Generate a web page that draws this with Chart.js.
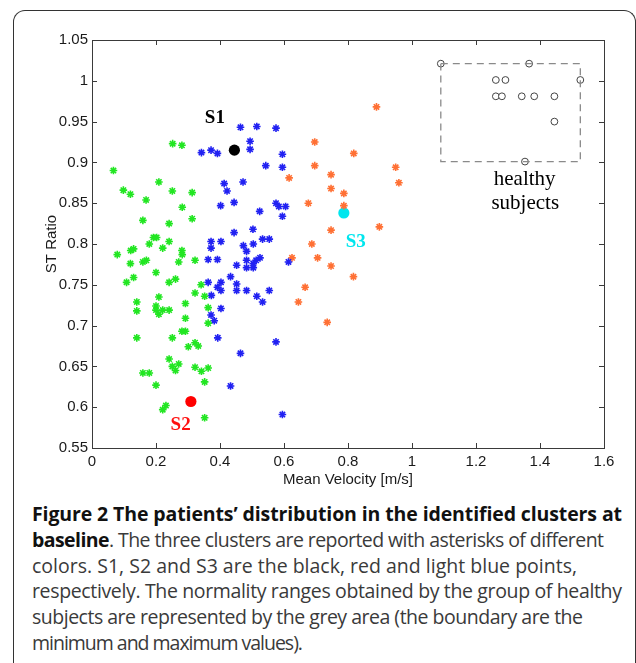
<!DOCTYPE html>
<html>
<head>
<meta charset="utf-8">
<script src="https://cdn.jsdelivr.net/npm/chart.js@4/dist/chart.umd.min.js"></script>
<style>
  html, body { margin: 0; padding: 0; background: #fff; }
  body { width: 636px; height: 663px; position: relative; overflow: hidden; }
  #frame {
    position: absolute; left: 13px; top: 10px; width: 621px; height: 700px;
    border: 1.5px solid #333; border-bottom: none; border-radius: 12px 12px 0 0;
  }
  #plot { position: absolute; left: 0; top: 0; width: 636px; height: 490px; }
  #caption {
    position: absolute; left: 32px; top: 501px; width: 600px;
    font-family: "Open Sans", sans-serif; font-size: 19.5px; line-height: 25.8px;
    color: #3a3a3a; white-space: nowrap;
  }
  #caption .ln { display: block; width: max-content; }
  #caption b { color: #111; font-weight: 700; }
</style>
</head>
<body>
<div id="frame"></div>
<div id="plot"><canvas id="c"></canvas></div>
<div id="caption">
  <span class="ln" data-w="590"><b>Figure 2 The patients’ distribution in the identified clusters at</b></span>
  <span class="ln" data-w="572"><b>baseline</b>. The three clusters are reported with asterisks of different</span>
  <span class="ln" data-w="545">colors. S1, S2 and S3 are the black, red and light blue points,</span>
  <span class="ln" data-w="590">respectively. The normality ranges obtained by the group of healthy</span>
  <span class="ln" data-w="551">subjects are represented by the grey area (the boundary are the</span>
  <span class="ln" data-w="271">minimum and maximum values).</span>
</div>
<script>
// ---- data ----
const greenX = [0.067, 0.252, 0.281, 0.209, 0.098, 0.120, 0.251, 0.313, 0.169, 0.282,
  0.159, 0.241, 0.313, 0.079, 0.121, 0.130, 0.120, 0.159, 0.170, 0.130,
  0.108, 0.179, 0.192, 0.202, 0.221, 0.241, 0.281, 0.282, 0.271, 0.322,
  0.200, 0.241, 0.261, 0.341, 0.322, 0.352, 0.209, 0.140, 0.140, 0.200,
  0.200, 0.209, 0.221, 0.241, 0.292, 0.292, 0.363, 0.363, 0.281, 0.292,
  0.251, 0.140, 0.301, 0.322, 0.332, 0.241, 0.251, 0.271, 0.261, 0.159,
  0.179, 0.322, 0.342, 0.363, 0.352, 0.200, 0.231, 0.221, 0.352];
const greenY = [0.890, 0.923, 0.921, 0.876, 0.866, 0.861, 0.865, 0.863, 0.854, 0.845,
  0.829, 0.825, 0.831, 0.787, 0.792, 0.794, 0.776, 0.778, 0.780, 0.759,
  0.753, 0.800, 0.808, 0.808, 0.795, 0.803, 0.792, 0.787, 0.778, 0.780,
  0.765, 0.753, 0.757, 0.750, 0.740, 0.736, 0.735, 0.729, 0.718, 0.724,
  0.719, 0.714, 0.719, 0.719, 0.727, 0.709, 0.722, 0.703, 0.693, 0.693,
  0.685, 0.685, 0.674, 0.679, 0.675, 0.659, 0.650, 0.653, 0.645, 0.642,
  0.642, 0.649, 0.644, 0.648, 0.631, 0.627, 0.602, 0.597, 0.587];

const blueX = [0.464, 0.515, 0.575, 0.494, 0.494, 0.342, 0.372, 0.392, 0.543, 0.413,
  0.422, 0.472, 0.402, 0.444, 0.524, 0.575, 0.444, 0.503, 0.533, 0.554,
  0.595, 0.595, 0.584, 0.605, 0.595, 0.372, 0.372, 0.403, 0.363, 0.392,
  0.473, 0.504, 0.483, 0.525, 0.513, 0.483, 0.483, 0.504, 0.504, 0.452,
  0.363, 0.403, 0.433, 0.452, 0.452, 0.392, 0.403, 0.373, 0.483, 0.515,
  0.533, 0.554, 0.403, 0.372, 0.382, 0.393, 0.575, 0.464, 0.433, 0.595,
  0.614];
const blueY = [0.943, 0.944, 0.942, 0.926, 0.916, 0.912, 0.915, 0.911, 0.896, 0.874,
  0.865, 0.876, 0.847, 0.851, 0.840, 0.850, 0.814, 0.818, 0.806, 0.806,
  0.910, 0.894, 0.846, 0.846, 0.834, 0.803, 0.795, 0.803, 0.781, 0.781,
  0.798, 0.800, 0.791, 0.783, 0.780, 0.780, 0.771, 0.771, 0.776, 0.774,
  0.753, 0.753, 0.760, 0.751, 0.743, 0.747, 0.743, 0.737, 0.743, 0.736,
  0.729, 0.743, 0.721, 0.713, 0.706, 0.685, 0.680, 0.666, 0.626, 0.591,
  0.778];

const orangeX = [0.889, 0.696, 0.818, 0.696, 0.616, 0.747, 0.747, 0.787, 0.676, 0.787,
  0.898, 0.747, 0.687, 0.625, 0.705, 0.747, 0.817, 0.666, 0.645, 0.735,
  0.949, 0.959];
const orangeY = [0.968, 0.925, 0.911, 0.896, 0.881, 0.885, 0.868, 0.862, 0.850, 0.847,
  0.821, 0.817, 0.800, 0.783, 0.783, 0.773, 0.760, 0.747, 0.729, 0.704,
  0.894, 0.875];

const healthyX = [1.090, 1.366, 1.526, 1.262, 1.292, 1.262, 1.281, 1.343, 1.382, 1.445, 1.445, 1.353];
const healthyY = [1.021, 1.021, 1.001, 1.001, 1.001, 0.981, 0.981, 0.981, 0.981, 0.981, 0.950, 0.901];

// min / max of healthy subjects (dashed box)
const rangeX = [1.090, 1.526];
const rangeY = [0.901, 1.021];

const subjectNames = ['S1', 'S2', 'S3'];
const subjectX = [0.445, 0.309, 0.787];
const subjectY = [0.915, 0.607, 0.838];

const xTicks = [0, 0.2, 0.4, 0.6, 0.8, 1, 1.2, 1.4, 1.6];
const yTicks = [0.55, 0.6, 0.65, 0.7, 0.75, 0.8, 0.85, 0.9, 0.95, 1, 1.05];

// ---- helpers ----
function pts(xs, ys) { return xs.map((x, i) => ({ x: x, y: ys[i] })); }

const subjectColors = ['#000000', '#ff0000', '#00e6ee'];

// text annotations in data units
const serifBold = 'bold 19px "Liberation Serif", serif';
const serif = '21px "Liberation Serif", serif';
const notes = [
  { text: 'S1', x: 0.384, y: 0.954, color: '#000', font: serifBold },
  { text: 'S2', x: 0.277, y: 0.578, color: '#ff1010', font: serifBold },
  { text: 'S3', x: 0.824, y: 0.802, color: '#00e6ee', font: serifBold },
  { text: 'healthy', x: 1.352, y: 0.879, color: '#000', font: serif },
  { text: 'subjects', x: 1.354, y: 0.850, color: '#000', font: serif }
];

const boxPlugin = {
  id: 'matlabBox',
  afterDraw(chart) {
    const ctx = chart.ctx;
    const a = chart.chartArea;
    const xs = chart.scales.x, ys = chart.scales.y;
    ctx.save();
    ctx.strokeStyle = '#3a3a3a';
    ctx.lineWidth = 1;
    ctx.strokeRect(Math.round(a.left) + 0.5, Math.round(a.top) + 0.5,
      Math.round(a.right - a.left), Math.round(a.bottom - a.top));
    // inward ticks on all four sides
    const tl = 5;
    ctx.beginPath();
    xTicks.forEach(v => {
      const p = Math.round(xs.getPixelForValue(v)) + 0.5;
      ctx.moveTo(p, a.bottom); ctx.lineTo(p, a.bottom - tl);
      ctx.moveTo(p, a.top); ctx.lineTo(p, a.top + tl);
    });
    yTicks.forEach(v => {
      const p = Math.round(ys.getPixelForValue(v)) + 0.5;
      ctx.moveTo(a.left, p); ctx.lineTo(a.left + tl, p);
      ctx.moveTo(a.right, p); ctx.lineTo(a.right - tl, p);
    });
    ctx.stroke();
    // labels
    ctx.textAlign = 'center';
    ctx.textBaseline = 'middle';
    notes.forEach(n => {
      ctx.font = n.font;
      ctx.fillStyle = n.color;
      ctx.fillText(n.text, xs.getPixelForValue(n.x), ys.getPixelForValue(n.y));
    });
    ctx.restore();
  }
};

const star = (color) => ({
  pointStyle: 'star', pointRadius: 3.8, pointBorderWidth: 1.6,
  borderColor: color, backgroundColor: color, pointHoverRadius: 3.8
});

const datasets = [
  {
    type: 'line', label: 'range',
    data: pts([rangeX[0], rangeX[1], rangeX[1], rangeX[0], rangeX[0]],
              [rangeY[1], rangeY[1], rangeY[0], rangeY[0], rangeY[1]]),
    borderColor: '#8a8a8a', borderWidth: 1.3, borderDash: [7, 5],
    pointRadius: 0, fill: false, tension: 0
  },
  {
    label: 'healthy', data: pts(healthyX, healthyY),
    pointStyle: 'circle', pointRadius: 3.4, pointBorderWidth: 1,
    borderColor: '#444', backgroundColor: '#fff'
  },
  Object.assign({ label: 'cluster 1', data: pts(greenX, greenY) }, star('#22e622')),
  Object.assign({ label: 'cluster 2', data: pts(blueX, blueY) }, star('#2121f2')),
  Object.assign({ label: 'cluster 3', data: pts(orangeX, orangeY) }, star('#ff7034'))
];
subjectNames.forEach((s, i) => {
  datasets.push({
    label: s, data: [{ x: subjectX[i], y: subjectY[i] }],
    pointStyle: 'circle', pointRadius: 5.6, pointBorderWidth: 0,
    borderColor: subjectColors[i], backgroundColor: subjectColors[i]
  });
});

const fmt = v => String(parseFloat(Number(v).toFixed(2)));
const tickFont = { family: '"Liberation Sans", Arial, sans-serif', size: 15 };

new Chart(document.getElementById('c'), {
  type: 'scatter',
  data: { datasets: datasets },
  options: {
    responsive: true,
    maintainAspectRatio: false,
    animation: false,
    devicePixelRatio: 1,
    layout: { padding: { left: 0, top: 40, right: 32, bottom: 0 } },
    plugins: { legend: { display: false }, tooltip: { enabled: false } },
    scales: {
      x: {
        type: 'linear', min: 0, max: 1.6,
        afterBuildTicks: s => { s.ticks = xTicks.map(v => ({ value: v })); },
        afterFit: s => { s.height = 42; },
        grid: { display: false, drawTicks: false }, border: { display: false },
        ticks: { color: '#1a1a1a', font: tickFont, padding: 5, callback: fmt, maxRotation: 0 },
        title: { display: true, text: 'Mean Velocity [m/s]', color: '#1a1a1a',
                 font: tickFont, padding: { top: 0, bottom: 1 } }
      },
      y: {
        type: 'linear', min: 0.55, max: 1.05,
        afterBuildTicks: s => { s.ticks = yTicks.map(v => ({ value: v })); },
        afterFit: s => { s.width = 92; },
        grid: { display: false, drawTicks: false }, border: { display: false },
        ticks: { color: '#1a1a1a', font: tickFont, padding: 4, callback: fmt },
        title: { display: true, text: 'ST Ratio', color: '#1a1a1a',
                 font: tickFont, padding: { top: 43, bottom: 0 } }
      }
    }
  },
  plugins: [boxPlugin]
});

// fit each caption line to the width it has in the figure
document.querySelectorAll('#caption .ln').forEach(el => {
  const target = +el.dataset.w;
  const w = el.getBoundingClientRect().width;
  const n = el.textContent.length - 1;
  if (n > 0) el.style.letterSpacing = ((target - w) / n).toFixed(3) + 'px';
});
</script>
</body>
</html>
